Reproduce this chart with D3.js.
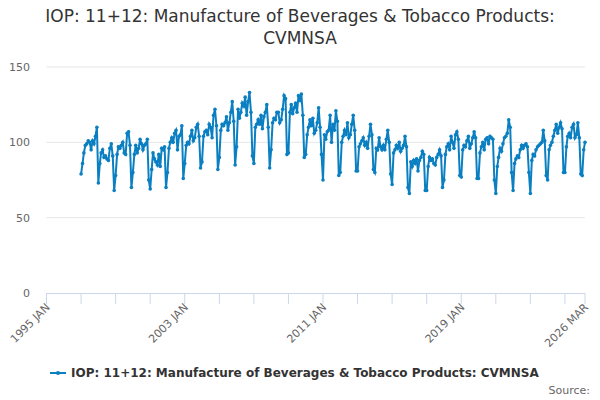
<!DOCTYPE html>
<html><head><meta charset="utf-8">
<script src="https://cdn.jsdelivr.net/npm/d3@7"></script>
<style>body{margin:0;background:#fff;font-family:"DejaVu Sans",sans-serif}</style>
</head><body><svg id="c" width="600" height="400"></svg>
<script>
// monthly values, one row per year, starting 1997 JAN
const startYear = 1997;
const values = [
  [79,86,93,98,99,101,100,95,101,99,104,110],
  [73,86,93,95,90,91,89,88,96,99,91,68],
  [78,92,97,96,98,100,93,92,106,107,98,70],
  [80,92,98,93,96,102,99,95,98,99,102,75],
  [69,82,93,89,87,85,92,84,96,95,97,70],
  [80,96,100,103,100,106,108,95,104,105,111,76],
  [86,98,100,99,104,108,101,103,110,112,104,83],
  [87,104,107,108,105,112,110,103,118,122,111,82],
  [90,108,112,111,113,117,108,113,120,127,114,85],
  [97,122,116,120,126,124,130,118,127,133,120,91],
  [86,110,112,115,112,118,109,117,120,125,110,83],
  [95,113,116,115,120,120,113,115,122,131,129,92],
  [93,120,125,119,123,126,120,131,128,132,118,90],
  [92,105,110,115,111,116,106,108,113,123,110,92],
  [75,105,102,107,108,118,100,112,108,121,114,78],
  [80,100,104,108,105,113,103,105,112,118,108,81],
  [81,97,99,101,103,98,100,96,104,112,105,82],
  [80,96,95,103,97,95,98,95,102,108,100,79],
  [72,93,95,98,96,100,94,96,98,104,97,70],
  [66,87,84,88,86,89,81,88,90,94,92,68],
  [68,84,90,88,89,86,85,90,92,95,91,70],
  [75,92,97,99,95,104,100,96,105,107,102,78],
  [77,95,98,97,101,104,96,99,103,107,103,76],
  [76,93,97,100,95,102,103,99,104,103,102,75],
  [66,84,90,96,94,99,103,104,106,115,110,80],
  [68,86,89,91,90,95,98,96,98,99,97,80],
  [66,88,92,91,95,97,98,99,100,108,101,78],
  [75,95,98,100,104,108,112,106,110,113,109,80],
  [80,97,104,106,103,110,112,103,105,113,103,79],
  [78,95,100]
];
const yTicks = [0, 50, 100, 150];
const xTickLabels = [[1995,0,"1995 JAN"],[2003,0,"2003 JAN"],[2011,0,"2011 JAN"],[2019,0,"2019 JAN"],[2026,2,"2026 MAR"]];
const title = ["IOP: 11+12: Manufacture of Beverages & Tobacco Products:", "CVMNSA"];
const seriesName = "IOP: 11+12: Manufacture of Beverages & Tobacco Products: CVMNSA";

const data = [];
values.forEach((row, i) => row.forEach((v, m) => data.push({ date: new Date(startYear + i, m, 1), v })));

const svg = d3.select('#c');
const x = d3.scaleTime().domain([new Date(1995, 0, 1), new Date(2026, 2, 1)]).range([46.5, 585]);
const y = d3.scaleLinear().domain([0, 150]).range([293, 67]);

svg.append('g').selectAll('line').data(yTicks.slice(1)).enter().append('line')
  .attr('x1', 46.5).attr('x2', 585).attr('y1', d => y(d)).attr('y2', d => y(d))
  .attr('stroke', '#e6e6e6');
svg.append('g').selectAll('text').data(yTicks).enter().append('text')
  .attr('x', 30).attr('y', d => y(d) + 4).attr('text-anchor', 'end')
  .style('font-size', '11px').style('fill', '#666').text(d => d);

// x axis
const xg = svg.append('g');
xg.append('line').attr('x1', 46.5).attr('x2', 585).attr('y1', 293.5).attr('y2', 293.5).attr('stroke', '#ccd6eb');
const minor = d3.range(1995, 2027, 2).map(yr => new Date(yr, 0, 1)).concat([new Date(2026, 2, 1)]);
xg.selectAll('.t').data(minor).enter().append('line')
  .attr('x1', d => x(d)).attr('x2', d => x(d)).attr('y1', 293).attr('y2', 304).attr('stroke', '#ccd6eb');
xg.selectAll('text').data(xTickLabels).enter().append('text')
  .attr('transform', d => `translate(${x(new Date(d[0], d[1], 1)) + 4},${308}) rotate(-45)`)
  .attr('text-anchor', 'end').style('font-size', '11px').style('fill', '#666').text(d => d[2]);

const color = '#0a7fc1';
svg.append('path').datum(data)
  .attr('d', d3.line().x(d => x(d.date)).y(d => y(d.v)))
  .attr('fill', 'none').attr('stroke', color).attr('stroke-width', 2);
svg.append('g').selectAll('circle').data(data).enter().append('circle')
  .attr('cx', d => x(d.date)).attr('cy', d => y(d.v)).attr('r', 1.8).attr('fill', color);

svg.selectAll('.title').data(title).enter().append('text')
  .attr('x', 300).attr('y', (d, i) => 22 + i * 22).attr('text-anchor', 'middle')
  .style('font-size', '17px').style('fill', '#333').text(d => d);

const lg = svg.append('g').attr('transform', 'translate(50,373)');
lg.append('line').attr('x1', 0).attr('x2', 16).attr('stroke', color).attr('stroke-width', 2);
lg.append('circle').attr('cx', 8).attr('r', 2).attr('fill', color);
lg.append('text').attr('x', 21).attr('y', 4).style('font-size', '12px').style('font-weight', 'bold')
  .style('fill', '#333').text(seriesName);

svg.append('text').attr('x', 590).attr('y', 394).attr('text-anchor', 'end')
  .style('font-size', '11px').style('fill', '#666').text('Source:');
</script></body></html>
